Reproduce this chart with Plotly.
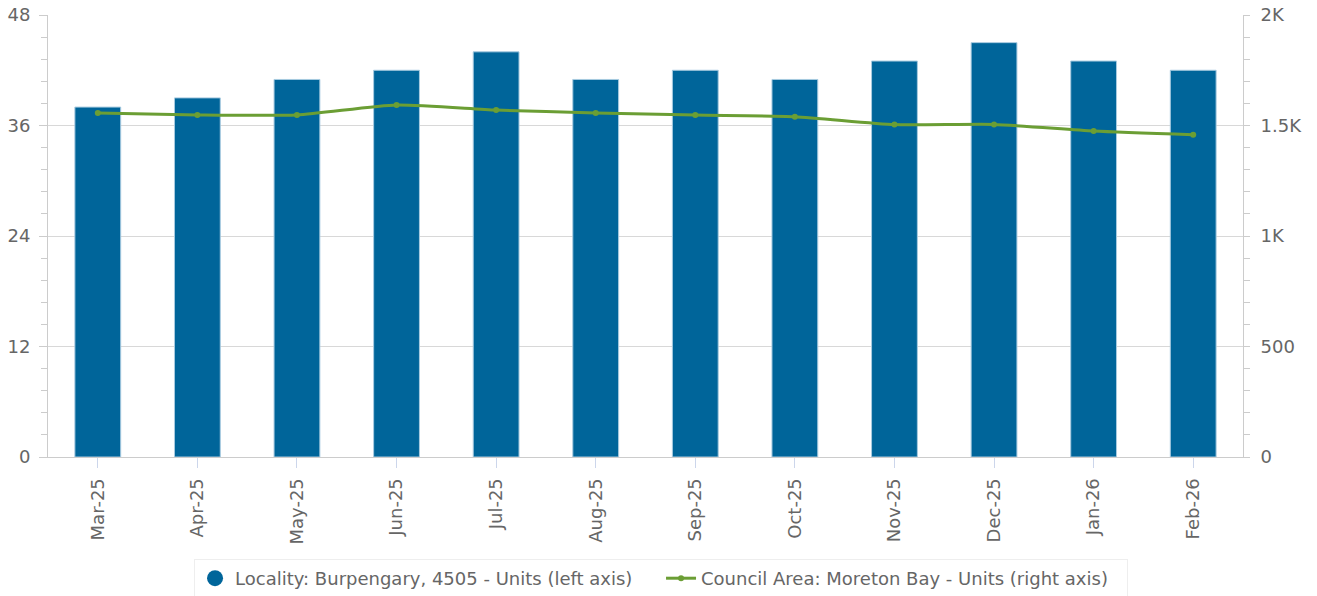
import plotly.graph_objects as go

months = ["Mar-25", "Apr-25", "May-25", "Jun-25", "Jul-25", "Aug-25",
          "Sep-25", "Oct-25", "Nov-25", "Dec-25", "Jan-26", "Feb-26"]
locality_units = [38, 39, 41, 42, 44, 41, 42, 41, 43, 45, 43, 42]
council_units = [1557, 1548, 1548, 1593, 1570, 1557,
                 1547, 1540, 1504, 1505, 1475, 1458]

left_ticks = [0, 12, 24, 36, 48]
right_ticks = [0, 500, 1000, 1500, 2000]
right_tick_labels = ["0", "500", "1K", "1.5K", "2K"]

locality_name = "Locality: Burpengary, 4505 - Units (left axis)"
council_name = "Council Area: Moreton Bay - Units (right axis)"

bar_color = "#00659a"
line_color = "#6b9e34"
text_color = "#666666"
font_family = "DejaVu Sans"

fig = go.Figure()

fig.add_trace(go.Bar(
    x=months, y=locality_units, name=locality_name,
    marker=dict(color=bar_color, line=dict(color="#a8cbe0", width=1)),
    showlegend=False, yaxis="y",
))

# legend entry with a round symbol for the bars
fig.add_trace(go.Scatter(
    x=[None], y=[None], mode="markers", name=locality_name,
    marker=dict(color=bar_color, size=17, symbol="circle"),
))

fig.add_trace(go.Scatter(
    x=months, y=council_units, name=council_name, yaxis="y2",
    mode="lines+markers",
    line=dict(color=line_color, width=3, shape="spline", smoothing=0.6),
    marker=dict(color=line_color, size=6),
))

fig.update_layout(
    width=1317, height=596,
    margin=dict(l=48, r=74, t=15, b=139, autoexpand=False),
    paper_bgcolor="white", plot_bgcolor="white",
    font=dict(family=font_family, size=18, color=text_color),
    bargap=0.54,
    xaxis=dict(
        type="category", range=[-0.5, len(months) - 0.5], automargin=False,
        tickangle=-90, ticklabelstandoff=3,
        showline=True, linecolor="#cccccc", linewidth=1,
        ticks="outside", ticklen=10, tickcolor="#ccd6eb",
        tickfont=dict(size=18, color=text_color),
        showgrid=False,
    ),
    yaxis=dict(
        range=[0, 48], tickvals=left_ticks, automargin=False,
        ticklabelstandoff=5,
        showline=True, linecolor="#cccccc", linewidth=1,
        ticks="outside", ticklen=8, tickcolor="#cccccc",
        gridcolor="#d8d8d8", gridwidth=1,
        minor=dict(dtick=2.4, ticks="outside", ticklen=6,
                   tickcolor="#cccccc", showgrid=False),
        tickfont=dict(size=18, color=text_color),
        zeroline=False,
    ),
    yaxis2=dict(
        range=[0, 2000], tickvals=right_ticks, ticktext=right_tick_labels,
        overlaying="y", side="right", automargin=False,
        ticklabelstandoff=7,
        showline=True, linecolor="#cccccc", linewidth=1,
        ticks="outside", ticklen=6, tickcolor="#cccccc",
        minor=dict(dtick=100, ticks="outside", ticklen=6,
                   tickcolor="#cccccc", showgrid=False),
        showgrid=False, zeroline=False,
        tickfont=dict(size=18, color=text_color),
    ),
    legend=dict(
        orientation="h", x=0.513, xanchor="center",
        yref="container", y=1 - 559 / 596, yanchor="top",
        bgcolor="white", bordercolor="#eeeeee", borderwidth=1,
        font=dict(size=18, color=text_color),
        entrywidth=421,
    ),
)

# drop the default body margin so the figure sits at the page corner
fig.write_html("out.html", config={"displayModeBar": False},
               post_script="document.body.style.margin='0';")
